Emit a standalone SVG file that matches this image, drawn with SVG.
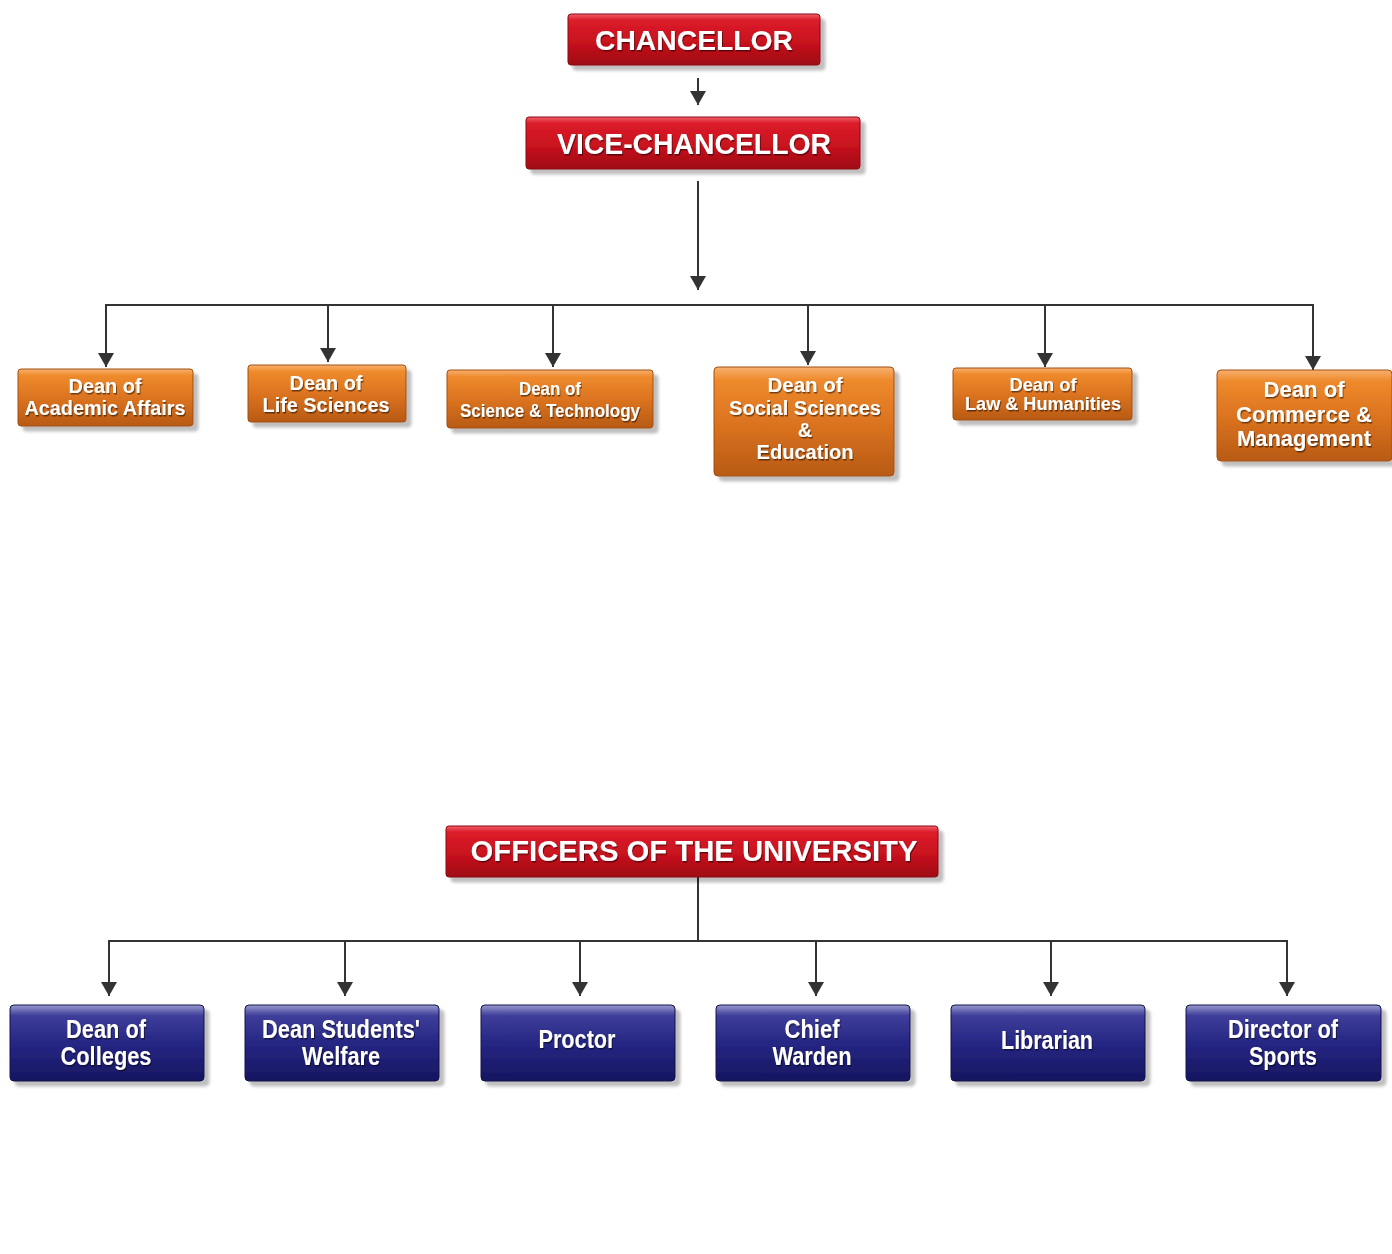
<svg xmlns="http://www.w3.org/2000/svg" width="1392" height="1254" viewBox="0 0 1392 1254">
<defs>
<linearGradient id="gRed" x1="0" y1="0" x2="0" y2="1">
<stop offset="0" stop-color="#f0606a"/><stop offset="0.12" stop-color="#dc1c2a"/><stop offset="0.55" stop-color="#c8121e"/><stop offset="1" stop-color="#9e0a12"/>
</linearGradient>
<linearGradient id="gOrange" x1="0" y1="0" x2="0" y2="1">
<stop offset="0" stop-color="#f8b070"/><stop offset="0.12" stop-color="#ee8a2c"/><stop offset="0.5" stop-color="#dc7420"/><stop offset="1" stop-color="#b85a14"/>
</linearGradient>
<linearGradient id="gBlue" x1="0" y1="0" x2="0" y2="1">
<stop offset="0" stop-color="#9a9ad0"/><stop offset="0.14" stop-color="#3e3e9a"/><stop offset="0.5" stop-color="#262684"/><stop offset="1" stop-color="#161660"/>
</linearGradient>
<filter id="sh" x="-10%" y="-20%" width="130%" height="160%">
<feDropShadow dx="5" dy="5" stdDeviation="1.5" flood-color="#000" flood-opacity="0.25"/>
</filter>
<filter id="ts" x="-5%" y="-20%" width="110%" height="150%">
<feDropShadow dx="1" dy="1.5" stdDeviation="0.6" flood-color="#000" flood-opacity="0.5"/>
</filter>
<marker id="ah2" markerWidth="14" markerHeight="16" refX="14" refY="8" orient="auto" markerUnits="userSpaceOnUse" viewBox="0 0 14 16">
<path d="M0,0 L14,8 L0,16 z" fill="#333"/>
</marker>
</defs>
<style>
.red{fill:url(#gRed);stroke:#8a0a10;stroke-width:1}
.org{fill:url(#gOrange);stroke:#a04e10;stroke-width:1}
.blu{fill:url(#gBlue);stroke:#10104a;stroke-width:1}
.t{font-family:"Liberation Sans",Arial,sans-serif;font-weight:bold;fill:#fff;text-anchor:middle;filter:url(#ts)}
.ln{stroke:#333;stroke-width:2;fill:none}
</style>
<rect width="1392" height="1254" fill="#fff"/>

<g id="connectors">
<line class="ln" x1="698" y1="78" x2="698" y2="105" marker-end="url(#ah2)"/>
<line class="ln" x1="698" y1="181" x2="698" y2="290" marker-end="url(#ah2)"/>
<polyline class="ln" points="106,366 106,305 1313,305 1313,369"/>
<line class="ln" x1="106" y1="305" x2="106" y2="367" marker-end="url(#ah2)"/>
<line class="ln" x1="328" y1="305" x2="328" y2="362" marker-end="url(#ah2)"/>
<line class="ln" x1="553" y1="305" x2="553" y2="367" marker-end="url(#ah2)"/>
<line class="ln" x1="808" y1="305" x2="808" y2="365" marker-end="url(#ah2)"/>
<line class="ln" x1="1045" y1="305" x2="1045" y2="367" marker-end="url(#ah2)"/>
<line class="ln" x1="1313" y1="305" x2="1313" y2="370" marker-end="url(#ah2)"/>
<line class="ln" x1="698" y1="877" x2="698" y2="941"/>
<polyline class="ln" points="109,995 109,941 1287,941 1287,995"/>
<line class="ln" x1="109" y1="941" x2="109" y2="996" marker-end="url(#ah2)"/>
<line class="ln" x1="345" y1="941" x2="345" y2="996" marker-end="url(#ah2)"/>
<line class="ln" x1="580" y1="941" x2="580" y2="996" marker-end="url(#ah2)"/>
<line class="ln" x1="816" y1="941" x2="816" y2="996" marker-end="url(#ah2)"/>
<line class="ln" x1="1051" y1="941" x2="1051" y2="996" marker-end="url(#ah2)"/>
<line class="ln" x1="1287" y1="941" x2="1287" y2="996" marker-end="url(#ah2)"/>
</g>

<g id="chancellor">
<rect class="red" x="568" y="14" width="252" height="51" rx="3" filter="url(#sh)"/>
<text class="t" x="694" y="50" font-size="28" textLength="198" lengthAdjust="spacingAndGlyphs">CHANCELLOR</text>
</g>
<g id="vice-chancellor">
<rect class="red" x="526" y="117" width="334" height="52" rx="3" filter="url(#sh)"/>
<text class="t" x="694" y="154" font-size="29" textLength="274" lengthAdjust="spacingAndGlyphs">VICE-CHANCELLOR</text>
</g>

<g id="dean-academic">
<rect class="org" x="18" y="369" width="175" height="57" rx="3" filter="url(#sh)"/>
<text class="t" x="105" y="393" font-size="20" textLength="73" lengthAdjust="spacingAndGlyphs">Dean of</text>
<text class="t" x="105" y="415" font-size="20" textLength="161" lengthAdjust="spacingAndGlyphs">Academic Affairs</text>
</g>
<g id="dean-life">
<rect class="org" x="248" y="365" width="158" height="57" rx="3" filter="url(#sh)"/>
<text class="t" x="326" y="390" font-size="20" textLength="73" lengthAdjust="spacingAndGlyphs">Dean of</text>
<text class="t" x="326" y="412" font-size="20" textLength="127" lengthAdjust="spacingAndGlyphs">Life Sciences</text>
</g>
<g id="dean-science">
<rect class="org" x="447" y="370" width="206" height="58" rx="3" filter="url(#sh)"/>
<text class="t" x="550" y="395" font-size="19" textLength="62" lengthAdjust="spacingAndGlyphs">Dean of</text>
<text class="t" x="550" y="417" font-size="19" textLength="180" lengthAdjust="spacingAndGlyphs">Science &amp; Technology</text>
</g>
<g id="dean-social">
<rect class="org" x="714" y="367" width="180" height="109" rx="4" filter="url(#sh)"/>
<text class="t" x="805" y="392" font-size="20" textLength="75" lengthAdjust="spacingAndGlyphs">Dean of</text>
<text class="t" x="805" y="415" font-size="20" textLength="152" lengthAdjust="spacingAndGlyphs">Social Sciences</text>
<text class="t" x="805" y="437" font-size="20">&amp;</text>
<text class="t" x="805" y="459" font-size="20" textLength="97" lengthAdjust="spacingAndGlyphs">Education</text>
</g>
<g id="dean-law">
<rect class="org" x="953" y="368" width="179" height="52" rx="3" filter="url(#sh)"/>
<text class="t" x="1043" y="391" font-size="18" textLength="67" lengthAdjust="spacingAndGlyphs">Dean of</text>
<text class="t" x="1043" y="410" font-size="18" textLength="156" lengthAdjust="spacingAndGlyphs">Law &amp; Humanities</text>
</g>
<g id="dean-commerce">
<rect class="org" x="1217" y="370" width="175" height="91" rx="4" filter="url(#sh)"/>
<text class="t" x="1304" y="397" font-size="22" textLength="81" lengthAdjust="spacingAndGlyphs">Dean of</text>
<text class="t" x="1304" y="422" font-size="22" textLength="136" lengthAdjust="spacingAndGlyphs">Commerce &amp;</text>
<text class="t" x="1304" y="446" font-size="22" textLength="134" lengthAdjust="spacingAndGlyphs">Management</text>
</g>

<g id="officers">
<rect class="red" x="446" y="826" width="492" height="51" rx="3" filter="url(#sh)"/>
<text class="t" x="694" y="861" font-size="29" textLength="447" lengthAdjust="spacingAndGlyphs">OFFICERS OF THE UNIVERSITY</text>
</g>

<g id="dean-colleges">
<rect class="blu" x="10" y="1005" width="194" height="76" rx="4" filter="url(#sh)"/>
<text class="t" x="106" y="1038" font-size="25" textLength="80" lengthAdjust="spacingAndGlyphs">Dean of</text>
<text class="t" x="106" y="1065" font-size="25" textLength="91" lengthAdjust="spacingAndGlyphs">Colleges</text>
</g>
<g id="dean-students">
<rect class="blu" x="245" y="1005" width="194" height="76" rx="4" filter="url(#sh)"/>
<text class="t" x="341" y="1038" font-size="25" textLength="158" lengthAdjust="spacingAndGlyphs">Dean Students'</text>
<text class="t" x="341" y="1065" font-size="25" textLength="78" lengthAdjust="spacingAndGlyphs">Welfare</text>
</g>
<g id="proctor">
<rect class="blu" x="481" y="1005" width="194" height="76" rx="4" filter="url(#sh)"/>
<text class="t" x="577" y="1048" font-size="25" textLength="77" lengthAdjust="spacingAndGlyphs">Proctor</text>
</g>
<g id="chief-warden">
<rect class="blu" x="716" y="1005" width="194" height="76" rx="4" filter="url(#sh)"/>
<text class="t" x="812" y="1038" font-size="25" textLength="55" lengthAdjust="spacingAndGlyphs">Chief</text>
<text class="t" x="812" y="1065" font-size="25" textLength="79" lengthAdjust="spacingAndGlyphs">Warden</text>
</g>
<g id="librarian">
<rect class="blu" x="951" y="1005" width="194" height="76" rx="4" filter="url(#sh)"/>
<text class="t" x="1047" y="1049" font-size="25" textLength="92" lengthAdjust="spacingAndGlyphs">Librarian</text>
</g>
<g id="director-sports">
<rect class="blu" x="1186" y="1005" width="195" height="76" rx="4" filter="url(#sh)"/>
<text class="t" x="1283" y="1038" font-size="25" textLength="110" lengthAdjust="spacingAndGlyphs">Director of</text>
<text class="t" x="1283" y="1065" font-size="25" textLength="68" lengthAdjust="spacingAndGlyphs">Sports</text>
</g>
</svg>
